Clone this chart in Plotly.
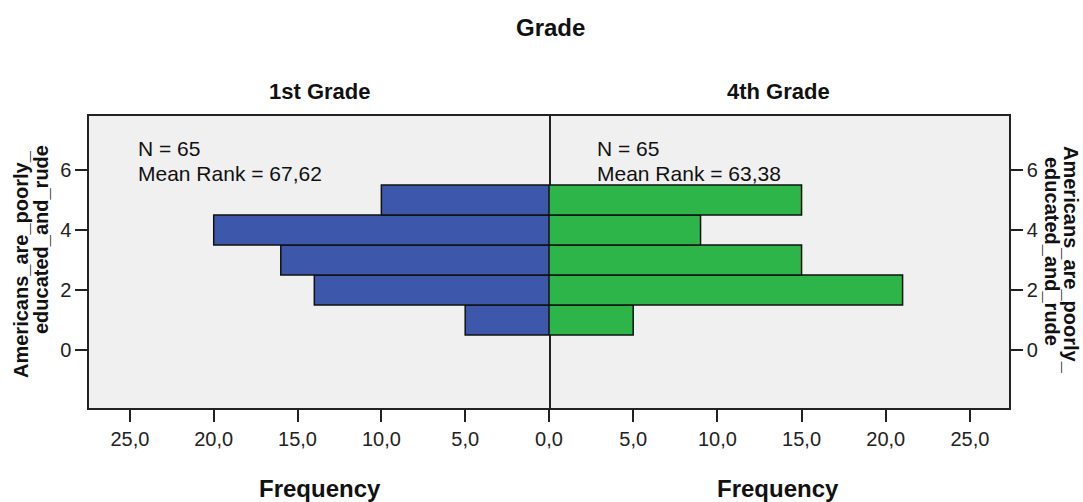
import plotly.graph_objects as go

# ---- data ----
levels = [1, 2, 3, 4, 5]
first_grade = [5, 14, 16, 20, 10]
fourth_grade = [5, 21, 15, 9, 15]
freq_ticks = [0, 5, 10, 15, 20, 25]
freq_ticklabels = ["0,0", "5,0", "10,0", "15,0", "20,0", "25,0"]
y_ticks = [0, 2, 4, 6]
panel_titles = ["1st Grade", "4th Grade"]
stats_left = ["N = 65", "Mean Rank = 67,62"]
stats_right = ["N = 65", "Mean Rank = 63,38"]

W, H = 1083, 502
L, R, T, B = 89, 74, 116, 94
PW, PH = W - L - R, H - T - B

def px_x(x):
    return (x - L) / PW

def px_y(y):
    return (H - B - y) / PH

BLUE = "#3D58AB"
GREEN = "#2EB54A"
LINE = "#222222"
FONT = "Liberation Sans, Arial, sans-serif"

fig = go.Figure()
fig.add_trace(go.Bar(x=first_grade, y=levels, orientation="h", width=1,
                     marker=dict(color=BLUE, line=dict(color="#111111", width=1.5)),
                     xaxis="x", yaxis="y", showlegend=False))
fig.add_trace(go.Bar(x=fourth_grade, y=levels, orientation="h", width=1,
                     marker=dict(color=GREEN, line=dict(color="#111111", width=1.5)),
                     xaxis="x2", yaxis="y2", showlegend=False))

axis_common = dict(showgrid=False, zeroline=False, showline=True, linecolor=LINE,
                   linewidth=1.5, ticks="outside", ticklen=12,
                   tickcolor=LINE, tickwidth=1.5,
                   tickfont=dict(family=FONT, size=20, color="#222222"))

# the shared "0,0" label at the centre is drawn once (by the left axis)
right_ticklabels = [""] + freq_ticklabels[1:]

fig.update_layout(
    width=W, height=H,
    margin=dict(l=L, r=R, t=T, b=B),
    paper_bgcolor="white", plot_bgcolor="#F0F0F0",
    font=dict(family=FONT, color="#111111"),
    barmode="overlay",
    xaxis=dict(domain=[0, 0.5], range=[27.44, 0], tickvals=freq_ticks,
               ticktext=freq_ticklabels, anchor="y", mirror=True, **axis_common),
    xaxis2=dict(domain=[0.5, 1], range=[0, 27.32], tickvals=freq_ticks,
                ticktext=right_ticklabels, anchor="y2", mirror=True, **axis_common),
    yaxis=dict(domain=[0, 1], range=[-1.93, 7.8], tickvals=y_ticks, anchor="x",
               side="left", mirror=True, **axis_common),
    yaxis2=dict(domain=[0, 1], range=[-1.93, 7.8], tickvals=y_ticks, anchor="x2",
                side="right", mirror=False, **axis_common),
)

ann = []
def add(text, x, y, size, bold=False, angle=0, xanchor="center", yanchor="middle"):
    ann.append(dict(text=f"<b>{text}</b>" if bold else text, x=px_x(x), y=px_y(y),
                    xref="paper", yref="paper", showarrow=False, textangle=angle,
                    xanchor=xanchor, yanchor=yanchor,
                    font=dict(family=FONT, size=size, color="#111111")))

add("Grade", 550, 28, 24, bold=True)
add(panel_titles[0], 320, 91, 22, bold=True)
add(panel_titles[1], 778, 91, 22, bold=True)
add("Frequency", 320, 488, 24, bold=True)
add("Frequency", 778, 488, 24, bold=True)

add(stats_left[0], 136, 148, 21, xanchor="left")
add(stats_left[1], 136, 173, 21, xanchor="left")
add(stats_right[0], 595, 148, 21, xanchor="left")
add(stats_right[1], 595, 173, 21, xanchor="left")

# left y title (reads bottom to top)
add("Americans_are_poorly_", 21, 264, 20, bold=True, angle=-90)
add("educated_and_rude", 41, 240, 20, bold=True, angle=-90)
# right y title (reads top to bottom)
add("Americans_are_poorly_", 1071, 260, 20, bold=True, angle=90)
add("educated_and_rude", 1052, 251, 20, bold=True, angle=90)

fig.update_layout(annotations=ann)
fig.write_html("out.html", config={"displayModeBar": False},
               post_script="document.body.style.margin='0';document.body.style.padding='0';")
